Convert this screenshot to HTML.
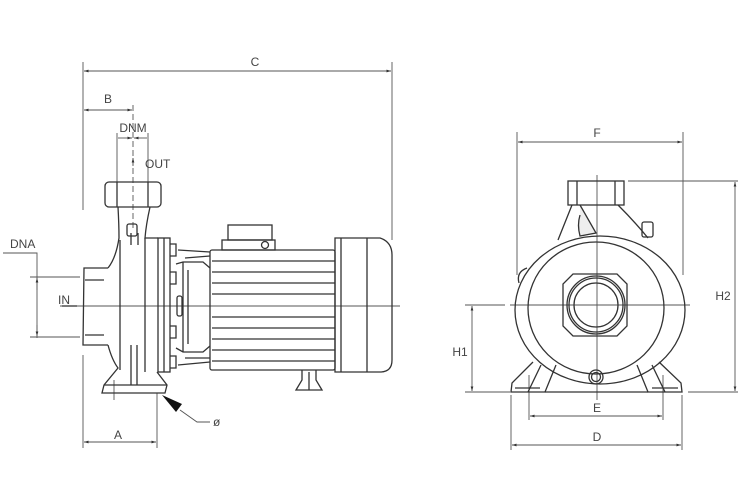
<!DOCTYPE html>
<html><head><meta charset="utf-8"><style>
html,body{margin:0;padding:0;background:#fff;}
svg{display:block}
text{font-family:"Liberation Sans",sans-serif;font-size:12px;fill:#444;}
</style></head><body>
<svg width="750" height="500" viewBox="0 0 750 500" xmlns="http://www.w3.org/2000/svg">
<defs>
<marker id="ar" viewBox="0 0 10 10" refX="10" refY="5" markerWidth="7" markerHeight="5" orient="auto-start-reverse"><path d="M0,2 L10,5 L0,8z" fill="#333"/></marker>
</defs>
<g fill="none" stroke="#555" stroke-width="0.9">
<line x1="83" y1="62" x2="83" y2="210"/>
<line x1="83" y1="355" x2="83" y2="448"/>
<line x1="392" y1="62" x2="392" y2="240"/>
<line x1="84" y1="71" x2="391" y2="71" marker-start="url(#ar)" marker-end="url(#ar)"/>
<line x1="84" y1="110" x2="132" y2="110" marker-start="url(#ar)" marker-end="url(#ar)"/>
<line x1="133" y1="105" x2="133" y2="230" stroke-dasharray="6,3"/>
<line x1="117" y1="133" x2="117" y2="182"/>
<line x1="148" y1="133" x2="148" y2="182"/>
<line x1="118" y1="138" x2="132" y2="138" marker-end="url(#ar)"/>
<line x1="147" y1="138" x2="134" y2="138" marker-end="url(#ar)"/>
<line x1="133" y1="166" x2="133" y2="158" marker-end="url(#ar)"/>
<polyline points="3,253 37,253 37,338"/>
<line x1="30" y1="277" x2="80" y2="277"/>
<line x1="30" y1="337" x2="80" y2="337"/>
<line x1="37" y1="290" x2="37" y2="278" marker-end="url(#ar)"/>
<line x1="37" y1="325" x2="37" y2="336" marker-end="url(#ar)"/>
<line x1="60" y1="306" x2="400" y2="306"/>
<line x1="62" y1="306" x2="77" y2="306" stroke="#222" stroke-width="1.2"/>
<line x1="157" y1="393" x2="157" y2="448"/>
<line x1="114" y1="380" x2="114" y2="400"/>
<line x1="84" y1="442" x2="156" y2="442" marker-start="url(#ar)" marker-end="url(#ar)"/>
<polyline points="180,410 197,422 210,422"/>
</g>
<polygon points="162,395 182,404 176,412" fill="#111"/>
<g fill="none" stroke="#333" stroke-width="1.3">
<rect x="105" y="182" width="56" height="25" rx="4"/>
<line x1="117" y1="182" x2="117" y2="207"/>
<line x1="148" y1="182" x2="148" y2="207"/>
<path d="M118,207 Q119,225 119,238 Q116,258 108,268"/>
<path d="M150,207 Q146,225 145,238 L158,238"/>
<rect x="127" y="224" width="10" height="12" rx="2"/>
<line x1="120" y1="240" x2="120" y2="370"/>
<line x1="145" y1="238" x2="145" y2="372"/>
<line x1="131" y1="233" x2="131" y2="245"/><line x1="138" y1="233" x2="138" y2="245"/>
<line x1="131" y1="345" x2="131" y2="385"/><line x1="137" y1="345" x2="137" y2="385"/>
<path d="M108,268 L84,268 L83,345 L108,345"/>
<line x1="85" y1="280" x2="104" y2="280"/>
<line x1="85" y1="335" x2="104" y2="335"/>
<path d="M108,345 Q112,360 118,368 L104,385 L102,393 L165,393 L167,385 L157,372"/>
<line x1="104" y1="385" x2="167" y2="385"/>
<rect x="158" y="238" width="12" height="134"/>
<line x1="164" y1="238" x2="164" y2="372"/>
<path d="M170,244 h6 v12 h-6 M170,272 h6 v12 h-6 M170,326 h6 v12 h-6 M170,356 h6 v12 h-6"/>
<path d="M176,264 L183,262 L203,262 L210,268 M176,348 L183,352 L203,352 L210,346"/>
<line x1="183" y1="262" x2="183" y2="352"/>
<line x1="188" y1="270" x2="188" y2="344"/>
<rect x="177" y="296" width="5" height="20" rx="2"/>
<line x1="178" y1="250" x2="210" y2="252"/>
<line x1="178" y1="365" x2="210" y2="362"/>
<line x1="185" y1="258" x2="210" y2="256"/>
<line x1="185" y1="358" x2="210" y2="358"/>
<rect x="210" y="250" width="125" height="120" rx="2"/>
<path d="M212,261 H335 M212,272 H335 M212,283 H335 M212,294 H335 M212,317 H335 M212,328 H335 M212,339 H335 M212,350 H335 M212,361 H335"/>
<rect x="228" y="225" width="44" height="15"/>
<rect x="222" y="240" width="53" height="10"/>
<circle cx="265" cy="245" r="3.5"/>
<path d="M335,238 L380,238 Q392,242 392,255 L392,360 Q392,372 380,372 L335,372 Z"/>
<line x1="341" y1="238" x2="341" y2="372"/>
<line x1="367" y1="238" x2="367" y2="372"/>
<path d="M302,370 L302,380 L296,390 L322,390 L316,380 L316,370"/>
<line x1="309" y1="372" x2="309" y2="390"/>
</g>
<text x="255" y="66" text-anchor="middle">C</text>
<text x="108" y="103" text-anchor="middle">B</text>
<text x="133" y="132" text-anchor="middle" font-size="11">DNM</text>
<text x="145" y="168" font-size="15">OUT</text>
<text x="10" y="248" font-size="11">DNA</text>
<text x="58" y="304" font-size="12">IN</text>
<text x="118" y="439" text-anchor="middle">A</text>
<text x="213" y="426" font-size="11">ø</text>

<g fill="none" stroke="#555" stroke-width="0.9">
<line x1="517" y1="132" x2="517" y2="275"/>
<line x1="683" y1="132" x2="683" y2="275"/>
<line x1="518" y1="142" x2="682" y2="142" marker-start="url(#ar)" marker-end="url(#ar)"/>
<line x1="628" y1="181" x2="738" y2="181"/>
<line x1="688" y1="392" x2="738" y2="392"/>
<line x1="735" y1="182" x2="735" y2="391" marker-start="url(#ar)" marker-end="url(#ar)"/>
<line x1="465" y1="305" x2="505" y2="305"/>
<line x1="465" y1="392" x2="510" y2="392"/>
<line x1="472" y1="306" x2="472" y2="391" marker-start="url(#ar)" marker-end="url(#ar)"/>
<line x1="510" y1="305" x2="690" y2="305"/>
<line x1="597" y1="175" x2="597" y2="400"/>
<line x1="529" y1="375" x2="529" y2="420"/>
<line x1="663" y1="375" x2="663" y2="420"/>
<line x1="511" y1="395" x2="511" y2="450"/>
<line x1="682" y1="395" x2="682" y2="450"/>
<line x1="530" y1="416" x2="662" y2="416" marker-start="url(#ar)" marker-end="url(#ar)"/>
<line x1="512" y1="445" x2="681" y2="445" marker-start="url(#ar)" marker-end="url(#ar)"/>
</g>
<g fill="none" stroke="#333" stroke-width="1.3">
<rect x="568" y="181" width="56" height="24"/>
<line x1="577" y1="181" x2="577" y2="205"/><line x1="615" y1="181" x2="615" y2="205"/>
<path d="M572,205 L558,240"/>
<path d="M580,205 L596,233 L580,236 Q577,225 580,215" fill="#eee"/>
<path d="M618,205 Q635,222 648,238"/>
<rect x="642" y="222" width="11" height="15" rx="2"/>
<ellipse cx="600" cy="310" rx="85" ry="74"/>
<ellipse cx="596" cy="308" rx="68" ry="66"/>
<path d="M519,283 Q516,272 527,268"/>
<path d="M573,274 H617 L627,284 V326 L617,336 H573 L563,326 V284 Z"/>
<circle cx="596" cy="305" r="27"/>
<circle cx="596" cy="305" r="22"/>
<circle cx="596" cy="305" r="29"/>
<circle cx="596" cy="377" r="7"/>
<circle cx="596" cy="377" r="4.5"/>
<path d="M533,362 L512,383 L511,392 L545,392 L556,365"/>
<path d="M541,365 L528,392"/>
<path d="M659,362 L681,383 L682,392 L648,392 L637,365"/>
<path d="M652,365 L665,392"/>
<line x1="545" y1="392" x2="648" y2="392"/>
<path d="M515,388 H540 M652,388 H678"/>
</g>
<text x="597" y="137" text-anchor="middle">F</text>
<text x="723" y="300" text-anchor="middle">H2</text>
<text x="460" y="356" text-anchor="middle">H1</text>
<text x="597" y="412" text-anchor="middle">E</text>
<text x="597" y="441" text-anchor="middle">D</text>
</svg>
</body></html>
